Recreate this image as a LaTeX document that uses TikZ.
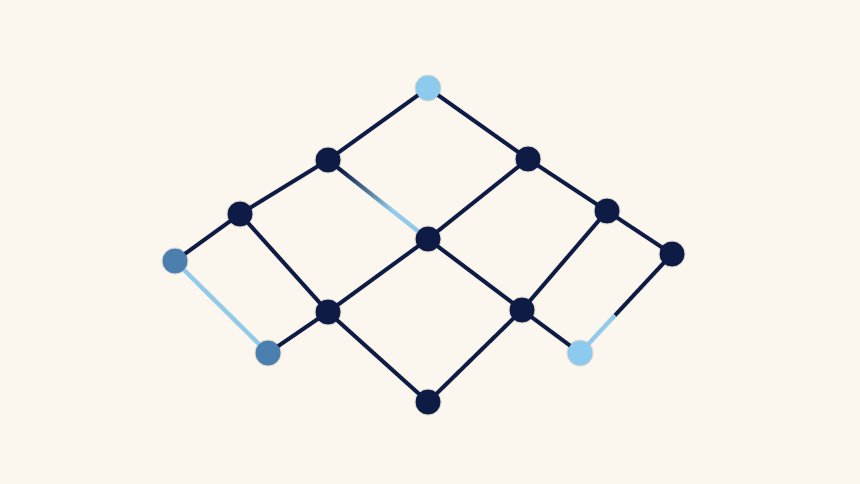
\documentclass[tikz,border=0pt]{standalone}
\usetikzlibrary{calc}
\definecolor{bg}{HTML}{FBF7EE}
\definecolor{navy}{HTML}{0D1B45}
\definecolor{lblue}{HTML}{8CCBEE}
\definecolor{mblue}{HTML}{4A7FB0}
\tikzset{
  dot/.style={circle,fill=navy,minimum size=25pt,inner sep=0pt},
  ldot/.style={dot,fill=lblue},
  mdot/.style={dot,fill=mblue},
  edge/.style={draw=navy,line width=3.8pt},
  ledge/.style={draw=lblue,line width=3.8pt},
  shad/.style={draw=black!70,line width=5pt,opacity=0.09},
}
\begin{document}
\begin{tikzpicture}[x=1pt,y=-1pt]
\fill[bg] (0,0) rectangle (860,484);
\useasboundingbox (0,0) rectangle (860,484);
% coordinates for nodes
\coordinate (A) at (428,88);
\coordinate (B) at (328,160);
\coordinate (C) at (528,159);
\coordinate (D) at (240,214);
\coordinate (E) at (607,211);
\coordinate (F) at (428,239);
\coordinate (G) at (175,261);
\coordinate (H) at (672,254);
\coordinate (I) at (328,312);
\coordinate (J) at (522,310);
\coordinate (K) at (268,353);
\coordinate (L) at (580,353);
\coordinate (M) at (428,402);
% shadows
\foreach \s/\o in {3/0.07,5/0.05}{
\begin{scope}[shift={(\s,\s+1)}]
\foreach \a/\b in {A/B,A/C,B/D,B/F,C/F,C/E,D/G,D/I,E/H,E/J,F/I,F/J,G/K,H/L,I/K,I/M,J/M,J/L}
  \draw[draw=black!70,line width=5pt,opacity=\o] (\a) -- (\b);
\foreach \n in {A,B,C,D,E,F,G,H,I,J,K,L,M}
  \fill[black,opacity=\o] (\n) circle (13.5pt);
\end{scope}}
% edges
\foreach \a/\b in {A/B,A/C,B/D,C/F,C/E,D/G,D/I,E/H,E/J,F/I,F/J,I/K,I/M,J/M,J/L}
  \draw[edge] (\a) -- (\b);
\draw[ledge] (G) -- (K);
% gradient edge B-F
\draw[edge] (B) -- ($(B)!0.12!(F)$);
\foreach \i in {0,...,19}{
  \pgfmathsetmacro{\t}{0.12+\i*0.025}
  \pgfmathsetmacro{\u}{0.12+(\i+1)*0.025+0.005}
  \pgfmathtruncatemacro{\p}{100-\i*5}
  \draw[line width=3.8pt,draw=navy!\p!lblue] ($(B)!\t!(F)$) -- ($(B)!\u!(F)$);
}
\draw[ledge] ($(B)!0.62!(F)$) -- (F);
% split edge H-L
\coordinate (HL) at ($(H)!0.62!(L)$);
\draw[edge] (H) -- (HL);
\draw[ledge] (HL) -- (L);
% nodes
\node[ldot] (nA) at (A) {};
\node[dot] (nB) at (B) {};
\node[dot] (nC) at (C) {};
\node[dot] (nD) at (D) {};
\node[dot] (nE) at (E) {};
\node[dot] (nF) at (F) {};
\node[mdot] (nG) at (G) {};
\node[dot] (nH) at (H) {};
\node[dot] (nI) at (I) {};
\node[dot] (nJ) at (J) {};
\node[mdot] (nK) at (K) {};
\node[ldot] (nL) at (L) {};
\node[dot] (nM) at (M) {};
\end{tikzpicture}
\end{document}
